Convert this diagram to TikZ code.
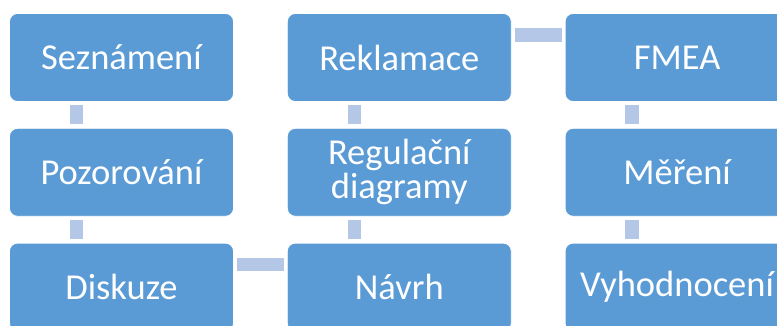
\documentclass[tikz,border=0pt]{standalone}
\usepackage{fontspec}
\setmainfont{Carlito}
\usetikzlibrary{positioning}

\definecolor{boxblue}{HTML}{5B9BD5}
\definecolor{linkblue}{HTML}{B4C7E7}

\begin{document}
\begin{tikzpicture}[
    x=1pt, y=1pt,
    node distance=26pt and 53pt,
    stage/.style={rectangle, draw=white, line width=0.8pt, fill=boxblue,
                  rounded corners=8pt, minimum width=224pt, minimum height=88pt,
                  inner sep=0pt, align=center, text=white,
                  font=\fontsize{36.5}{34}\selectfont},
    link/.style={draw=linkblue, line width=13.5pt}
]
  \useasboundingbox (0,0) rectangle (777,325);

  \node[stage] (sez) at (121.5,267.5) {Seznámení};
  \node[stage, below=of sez] (poz) {Pozorování};
  \node[stage, below=of poz] (dis) {Diskuze};
  \node[stage, right=of dis] (nav) {Návrh};
  \node[stage, above=of nav] (reg) {Regulační\\diagramy};
  \node[stage, above=of reg] (rek) {Reklamace};
  \node[stage, right=of rek] (fmea) {FMEA};
  \node[stage, below=of fmea] (mer) {Měření};
  \node[stage, below=of mer] (vyh) {Vyhodnocení};

  % vertical links
  \draw[link] ([xshift=-45pt,yshift=-3.5pt]sez.south) -- ([xshift=-45pt,yshift=3.5pt]poz.north);
  \draw[link] ([xshift=-45pt,yshift=-3.5pt]poz.south) -- ([xshift=-45pt,yshift=3.5pt]dis.north);
  \draw[link] ([xshift=-45pt,yshift=3.5pt]nav.north) -- ([xshift=-45pt,yshift=-3.5pt]reg.south);
  \draw[link] ([xshift=-45pt,yshift=3.5pt]reg.north) -- ([xshift=-45pt,yshift=-3.5pt]rek.south);
  \draw[link] ([xshift=-45pt,yshift=-3.5pt]fmea.south) -- ([xshift=-45pt,yshift=3.5pt]mer.north);
  \draw[link] ([xshift=-45pt,yshift=-3.5pt]mer.south) -- ([xshift=-45pt,yshift=3.5pt]vyh.north);
  % horizontal links
  \draw[link] ([xshift=3pt,yshift=22.5pt]dis.east) -- ([xshift=-3pt,yshift=22.5pt]nav.west);
  \draw[link] ([xshift=3pt,yshift=22.5pt]rek.east) -- ([xshift=-3pt,yshift=22.5pt]fmea.west);
\end{tikzpicture}
\end{document}
